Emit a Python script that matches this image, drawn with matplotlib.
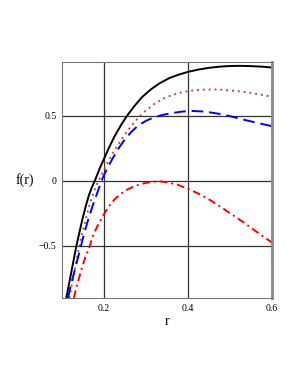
import matplotlib

matplotlib.use("Agg")
import matplotlib.pyplot as plt  # noqa: E402

# values
r_solid = [0.110, 0.116, 0.122, 0.128, 0.134, 0.141, 0.148, 0.156, 0.164, 0.171,
           0.178, 0.189, 0.200, 0.212, 0.224, 0.240, 0.255, 0.272, 0.290, 0.310,
           0.331, 0.355, 0.378, 0.400, 0.425, 0.450, 0.475, 0.500, 0.525, 0.550,
           0.575, 0.600]
f_solid = [-0.90, -0.80, -0.70, -0.60, -0.50, -0.40, -0.30, -0.20, -0.11, -0.05,
           0.00, 0.09, 0.17, 0.255, 0.335, 0.425, 0.50, 0.572, 0.64, 0.697,
           0.745, 0.787, 0.814, 0.835, 0.853, 0.866, 0.875, 0.880, 0.881, 0.879,
           0.875, 0.868]

r_dot = [0.117, 0.123, 0.129, 0.135, 0.141, 0.148, 0.156, 0.164, 0.173, 0.180,
         0.187, 0.200, 0.212, 0.225, 0.240, 0.255, 0.270, 0.285, 0.300, 0.320,
         0.340, 0.360, 0.380, 0.400, 0.430, 0.457, 0.480, 0.510, 0.540, 0.570,
         0.600]
f_dot = [-0.90, -0.80, -0.70, -0.60, -0.50, -0.40, -0.30, -0.20, -0.11, -0.05,
         0.00, 0.085, 0.16, 0.235, 0.31, 0.38, 0.44, 0.495, 0.54, 0.59,
         0.628, 0.655, 0.674, 0.688, 0.698, 0.700, 0.698, 0.690, 0.678, 0.662,
         0.643]

r_dash = [0.114, 0.121, 0.129, 0.137, 0.145, 0.153, 0.162, 0.172, 0.183, 0.194,
          0.200, 0.210, 0.222, 0.235, 0.250, 0.265, 0.280, 0.300, 0.320, 0.340,
          0.360, 0.385, 0.410, 0.440, 0.470, 0.500, 0.530, 0.560, 0.600]
f_dash = [-0.90, -0.80, -0.70, -0.60, -0.50, -0.40, -0.30, -0.20, -0.10, 0.00,
          0.045, 0.11, 0.18, 0.25, 0.32, 0.375, 0.42, 0.46, 0.487, 0.505,
          0.518, 0.530, 0.535, 0.530, 0.515, 0.495, 0.470, 0.447, 0.418]

r_dashdot = [0.128, 0.134, 0.140, 0.147, 0.155, 0.166, 0.175, 0.187, 0.200, 0.212,
             0.224, 0.240, 0.256, 0.275, 0.295, 0.315, 0.331, 0.350, 0.374, 0.400,
             0.425, 0.450, 0.475, 0.500, 0.530, 0.560, 0.600]
f_dashdot = [-0.90, -0.82, -0.75, -0.67, -0.59, -0.50, -0.41, -0.33, -0.255, -0.195,
             -0.146, -0.10, -0.067, -0.038, -0.02, -0.008, -0.005, -0.012, -0.03, -0.062,
             -0.10, -0.144, -0.195, -0.25, -0.315, -0.385, -0.475]

x_ticks = [0.2, 0.4, 0.6]
y_ticks = [-0.5, 0, 0.5]
y_tick_labels = ["\u22120.5", "0", "0.5"]

plt.rcParams["font.family"] = ["Liberation Serif", "DejaVu Serif"]

fig = plt.figure(figsize=(3.0, 3.88), dpi=100)
ax = fig.add_axes([0.207, 0.232, 0.70, 0.608])

ax.plot(r_solid, f_solid, color="black", lw=1.4, ls="-")
ax.plot(r_dot, f_dot, color="#c04848", lw=1.4, ls=(0, (1, 2)))
ax.plot(r_dash, f_dash, color="#0000ff", lw=1.4, ls=(0, (6, 3)))
ax.plot(r_dashdot, f_dashdot, color="#ff0000", lw=1.4, ls=(0, (4, 2, 1, 2)))

ax.set_xlim(0.1, 0.6)
ax.set_ylim(-0.9, 0.91)
ax.set_xticks(x_ticks)
ax.set_xticklabels([str(t) for t in x_ticks])
ax.set_yticks(y_ticks)
ax.set_yticklabels(y_tick_labels)
ax.tick_params(length=0, labelsize=7, pad=4)
ax.grid(True, color="#333333", lw=0.9)

for side in ["left", "top", "bottom"]:
    ax.spines[side].set_color("#777777")
    ax.spines[side].set_linewidth(0.8)
ax.spines["right"].set_color("#888888")
ax.spines["right"].set_linewidth(2.0)

ax.set_xlabel("r", fontsize=10, labelpad=2)
ax.set_ylabel("f(r)", fontsize=10, rotation=0, labelpad=10, va="center")

fig.savefig("out.png", dpi=100)
